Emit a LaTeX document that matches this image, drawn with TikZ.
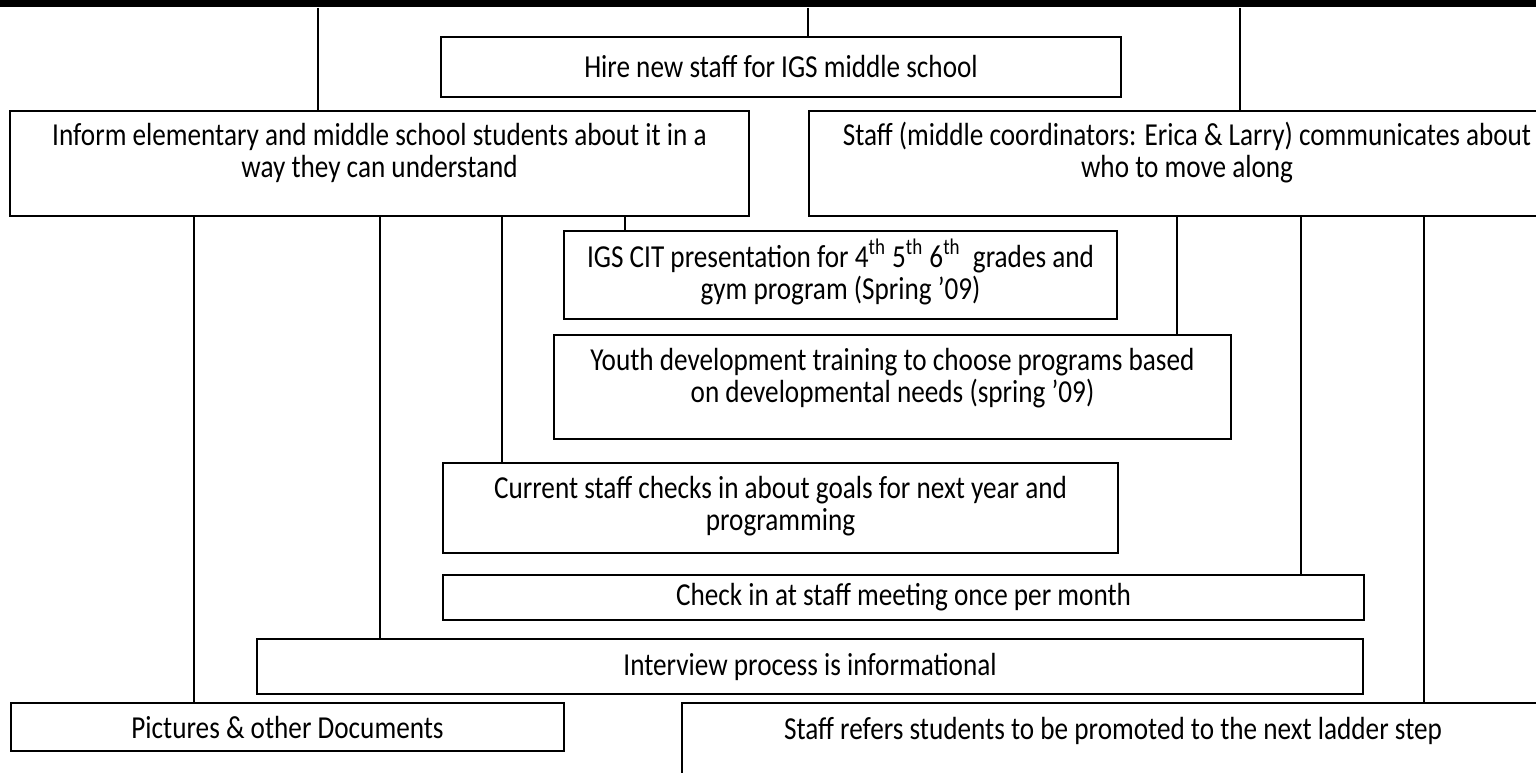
\documentclass[tikz,border=0pt]{standalone}
\usepackage{fontspec}
\setmainfont{Carlito}[FakeStretch=0.85]
\usetikzlibrary{positioning, calc}
\newcommand\boxfont{\fontsize{16}{16}\selectfont}

\begin{document}
\begin{tikzpicture}[x=0.5pt, y=-0.5pt,
    stepbox/.style={
        draw=black, line width=1pt, fill=white, anchor=north west,
        inner sep=0pt, font=\boxfont
    },
    boxtext/.style={font=\boxfont, align=center, anchor=base, inner sep=0pt},
    link/.style={draw=black, line width=1pt},
]
\useasboundingbox (0,0) rectangle (1536,772);
\clip (0,0) rectangle (1536,772);

% thick rule along the top
\node[fill=black, anchor=north west, inner sep=0pt, minimum width=768pt, minimum height=3.5pt] (topbar) at (0,0) {};

% first row
\node[stepbox, minimum width=340pt, minimum height=30pt] (hire) at (440,36) {Hire new staff for IGS middle school};
\node[stepbox, minimum width=369.5pt, minimum height=52.5pt] (inform) at (9,110) {};
\node[boxtext] at ($(inform.north)+(0,67)$) {Inform elementary and middle school students about it in a\\ way they can understand};
\node[stepbox, minimum width=378pt, minimum height=52.5pt] (staff) at (808,110) {};
\node[boxtext] at ($(staff.north)+(0,67)$) {Staff (middle coordinators: Erica \& Larry) communicates about\\ who to move along};

% middle steps
\node[stepbox, minimum width=276.5pt, minimum height=44pt] (igs) at (563,230) {};
\node[boxtext] at ($(igs.north)+(0,69)$) {IGS CIT presentation for 4\textsuperscript{th} 5\textsuperscript{th} 6\textsuperscript{th}\ \ grades and\\ gym program (Spring ’09)};
\node[stepbox, minimum width=338.5pt, minimum height=52pt] (youth) at (553,334) {};
\node[boxtext] at ($(youth.north)+(0,68)$) {Youth development training to choose programs based\\ on developmental needs (spring ’09)};
\node[stepbox, minimum width=337.5pt, minimum height=45pt] (current) at (442,462) {};
\node[boxtext] at ($(current.north)+(0,68)$) {Current staff checks in about goals for next year and\\ programming};
\node[stepbox, minimum width=460.5pt, minimum height=22.5pt] (checkin) at (442,574) {Check in at staff meeting once per month};
\node[stepbox, minimum width=553pt, minimum height=27.5pt] (interview) at (256,638) {Interview process is informational};

% bottom row
\node[stepbox, minimum width=276.5pt, minimum height=24pt] (pictures) at (10,702) {Pictures \& other Documents};
\node[stepbox, minimum width=431pt, minimum height=50pt] (refers) at (681,702) {};
\node[boxtext] at ($(refers.north)+(0,37)$) {Staff refers students to be promoted to the next ladder step};

% connectors
\foreach \x/\from/\to in {318/topbar/inform, 808/topbar/hire, 1240/topbar/staff,
        194/inform/pictures, 380/inform/interview, 502/inform/current, 625/inform/igs,
        1177/staff/youth, 1301/staff/checkin, 1424/staff/refers}
    \draw[link] (\from.south -| \x,0) -- (\to.north -| \x,0);

\end{tikzpicture}
\end{document}
